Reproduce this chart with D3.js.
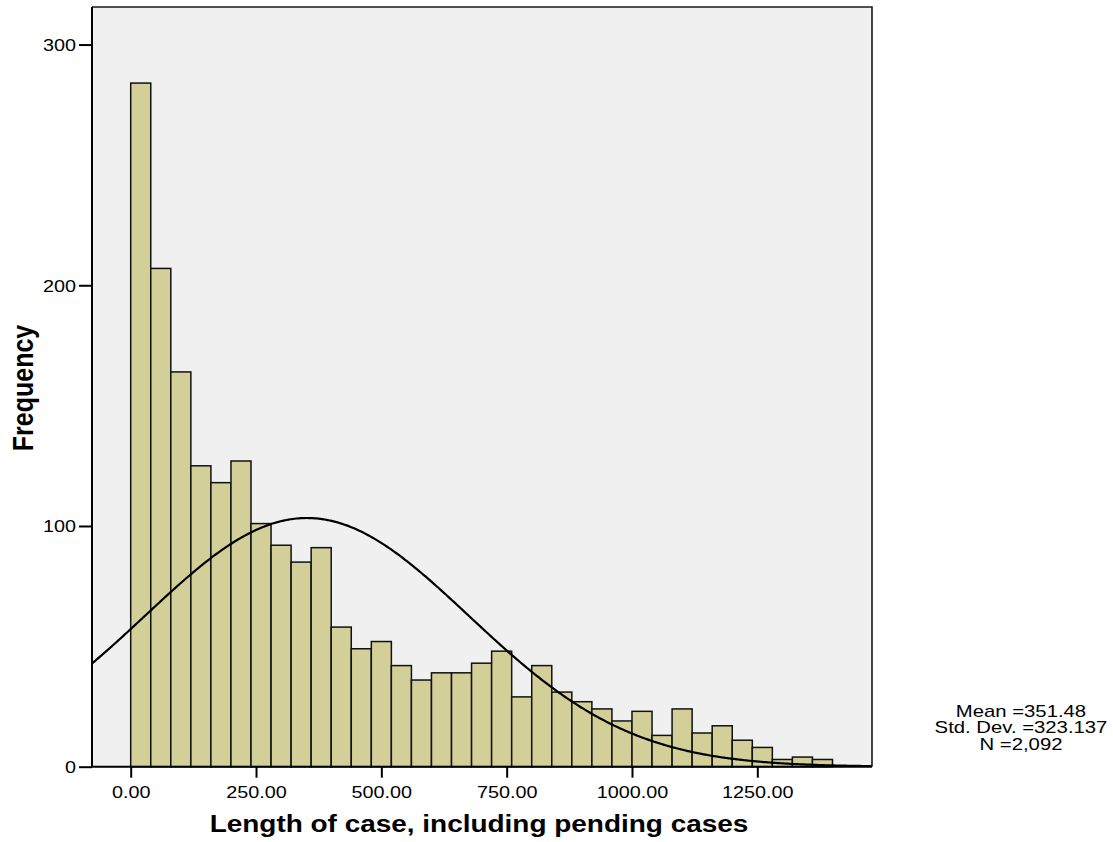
<!DOCTYPE html>
<html><head><meta charset="utf-8">
<script src="https://cdn.jsdelivr.net/npm/d3@7"></script>
<style>html,body{margin:0;padding:0;background:#fff;}svg{display:block;}</style>
</head><body>
<svg id="c" width="1113" height="842"></svg>
<script>
// Histogram counts, bins of width 40 starting at 0
const binStarts = [0,40,80,120,160,200,240,280,320,360,400,440,480,520,560,600,640,680,720,760,800,840,880,920,960,1000,1040,1080,1120,1160,1200,1240,1280,1320,1360];
const counts = [284,207,164,125,118,127,101,92,85,91,58,49,52,42,36,39,39,43,48,29,42,31,27,24,19,23,13,24,14,17,11,8,3,4,3];
const binWidth = 40;
const xTicks = [0,250,500,750,1000,1250];
const yTicks = [0,100,200,300];
const mean = 351.48, sd = 323.137, nObs = 2092;
const statLines = ["Mean =351.48","Std. Dev. =323.137","N =2,092"];
const xTitle = "Length of case, including pending cases";
const yTitle = "Frequency";

const L = 92, R = 872, T = 7, B = 766.7;
const SX = 1.2; // horizontal glyph stretch
const svg = d3.select("#c");
const x = d3.scaleLinear().domain([-77.2, 1478.8]).range([L, R]);
const y = d3.scaleLinear().domain([0, 315.6]).range([B, T]);

svg.append("rect").attr("x",L).attr("y",T).attr("width",R-L).attr("height",B-T).attr("fill","#f0f0f0");

svg.append("clipPath").attr("id","pc").append("rect").attr("x",L).attr("y",T).attr("width",R-L).attr("height",B-T);

svg.append("g").selectAll("rect").data(counts).join("rect")
  .attr("x",(d,i)=>x(binStarts[i]))
  .attr("y",d=>y(d))
  .attr("width",(d,i)=>x(binStarts[i]+binWidth)-x(binStarts[i]))
  .attr("height",d=>B-y(d))
  .attr("fill","#d3cf99").attr("stroke","#111").attr("stroke-width",1.5);

// normal curve
const k = nObs*binWidth/(sd*Math.sqrt(2*Math.PI));
const xs = d3.range(x.domain()[0], x.domain()[1]+1, 4);
const line = d3.line().x(v=>x(v)).y(v=>y(k*Math.exp(-((v-mean)**2)/(2*sd*sd)))).curve(d3.curveBasis);
svg.append("path").datum(xs).attr("d",line).attr("fill","none").attr("stroke","#000").attr("stroke-width",2.2).attr("clip-path","url(#pc)");

// frame top/right
svg.append("path").attr("d",`M${L},${T}H${R}V${B}`).attr("fill","none").attr("stroke","#1a1a1a").attr("stroke-width",1.6);

const font = "'Liberation Sans', Arial, sans-serif";
// axes
const gx = svg.append("g").attr("transform",`translate(0,${B})`)
  .call(d3.axisBottom(x).tickValues(xTicks).tickSize(11).tickSizeOuter(0).tickFormat(d3.format(".2f")));
gx.select(".domain").attr("d",`M${L},0H${R}`).attr("stroke","#000").attr("stroke-width",2);
gx.selectAll(".tick line").attr("stroke","#000").attr("stroke-width",2);
gx.selectAll(".tick text").attr("y",31).attr("dy",0).attr("font-family",font).attr("font-size",16.5).attr("fill","#000").attr("transform",`scale(${SX},1)`);

const gy = svg.append("g").attr("transform",`translate(${L},0)`)
  .call(d3.axisLeft(y).tickValues(yTicks).tickSize(13).tickSizeOuter(0).tickFormat(d3.format("d")));
gy.select(".domain").attr("d",`M0,${T}V${B}`).attr("stroke","#000").attr("stroke-width",2);
gy.selectAll(".tick line").attr("stroke","#000").attr("stroke-width",2);
gy.selectAll(".tick text").attr("x",-16/SX).attr("dy","0.36em").attr("font-family",font).attr("font-size",16.5).attr("fill","#000").attr("transform",`scale(${SX},1)`);

// titles
svg.append("g").attr("transform",`translate(479,831.5) scale(${SX},1)`)
  .append("text").attr("text-anchor","middle").attr("font-family",font).attr("font-weight","bold").attr("font-size",23.3).attr("fill","#000").text(xTitle);

svg.append("g").attr("transform",`translate(33,388) rotate(-90) scale(1,${SX})`)
  .append("text").attr("text-anchor","middle").attr("font-family",font).attr("font-weight","bold").attr("font-size",25).attr("fill","#000").text(yTitle);

const st = svg.append("g").attr("transform",`translate(1021,716.5) scale(1.27,1)`);
st.selectAll("text").data(statLines).join("text")
  .attr("x",0).attr("y",(d,i)=>i*16.8).attr("text-anchor","middle")
  .attr("font-family",font).attr("font-size",16).attr("fill","#000").text(d=>d);
</script>
</body></html>
